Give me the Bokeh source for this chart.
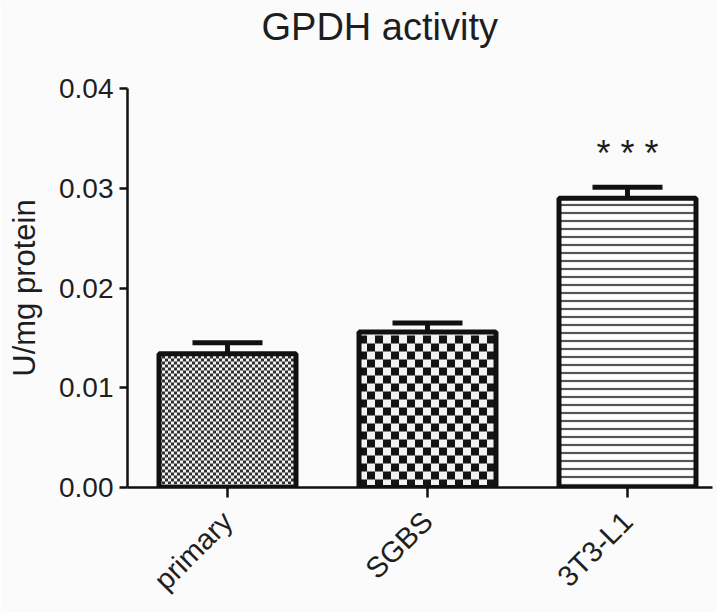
from bokeh.core.properties import value
from bokeh.embed import file_html
from bokeh.models import ColumnDataSource, FixedTicker, Range1d, TeeHead, Title, Whisker
from bokeh.plotting import figure
from bokeh.resources import INLINE

# ---- data -------------------------------------------------------------
cell_types = ["primary", "SGBS", "3T3-L1"]
gpdh_mean = [0.0134, 0.0156, 0.0290]
gpdh_sem = [0.0011, 0.0009, 0.0011]
significance = ["", "", "* * *"]
y_ticks = [0.00, 0.01, 0.02, 0.03, 0.04]

positions = list(range(len(cell_types)))
upper = [m + e for m, e in zip(gpdh_mean, gpdh_sem)]

# ---- layout -----------------------------------------------------------
W, H = 717, 612
BORDER_L, BORDER_R, BORDER_T, BORDER_B = 127, 5, 88, 125
X0, X1 = -0.5, 2.425
Y0, Y1 = 0.0, 0.04
BAR_W = 0.685
FRAME_W = W - BORDER_L - BORDER_R
FRAME_H = H - BORDER_T - BORDER_B

# data units per screen pixel, used to size the checker fills in pixels
dx_px = (X1 - X0) / FRAME_W
dy_px = (Y1 - Y0) / FRAME_H


def checker_cells(xc, top, cell_px):
    """Centres of the dark squares of a checkerboard filling one bar."""
    sx, sy = cell_px * dx_px, cell_px * dy_px
    left = xc - BAR_W / 2
    nx, ny = int(BAR_W / sx), int(top / sy)
    xs, ys = [], []
    for iy in range(ny):
        for ix in range(nx):
            if (ix + iy) % 2 == 0:
                xs.append(left + (ix + 0.5) * sx)
                ys.append((iy + 0.5) * sy)
    return xs, ys


FONT = "Liberation Sans"
INK = "#1e1e1e"

p = figure(width=W, height=H, output_backend="svg", toolbar_location=None,
           x_range=Range1d(X0, X1), y_range=Range1d(Y0, Y1),
           min_border_left=BORDER_L, min_border_right=BORDER_R,
           min_border_top=BORDER_T, min_border_bottom=BORDER_B,
           background_fill_color="#fbfbfb", border_fill_color="#fbfbfb")
p.outline_line_color = None
p.grid.visible = False

# bar backgrounds
p.vbar(x=positions[:2], top=gpdh_mean[:2], width=BAR_W, bottom=0,
       fill_color="#f2f2f2", line_color=None)

# fine checker (primary) and coarse checker (SGBS)
for idx, cell_px, dark in ((0, 3, "#2e2e2e"), (1, 8, "#141414")):
    xs, ys = checker_cells(positions[idx], gpdh_mean[idx], cell_px)
    p.rect(x=xs, y=ys, width=cell_px, height=cell_px, width_units="screen",
           height_units="screen", fill_color=dark, line_color=None)

# horizontal-line fill (3T3-L1)
p.vbar(x=[positions[2]], top=[gpdh_mean[2]], width=BAR_W, bottom=0,
       fill_color="white", line_color=None, hatch_pattern="horizontal_line",
       hatch_scale=8, hatch_weight=2.2, hatch_color="#555555")

# bar outlines
p.vbar(x=positions, top=gpdh_mean, width=BAR_W, bottom=0, fill_color=None,
       line_color="#111111", line_width=5)

err_src = ColumnDataSource(dict(x=positions, lower=gpdh_mean, upper=upper))
p.add_layout(Whisker(source=err_src, base="x", lower="lower", upper="upper",
                     dimension="height", line_width=5, line_color="#111111",
                     lower_head=None,
                     upper_head=TeeHead(size=70, line_width=5, line_color="#111111")))

p.text(x=positions, y=upper, text=significance, text_font=value(FONT),
       text_font_size="36px", text_color=INK, text_align="center",
       text_baseline="middle", y_offset=-34)

# main title, with a blank spacer title between it and the frame
p.title.text = "GPDH activity"
p.title.text_font = FONT
p.title.text_font_size = "38px"
p.title.text_font_style = "normal"
p.title.text_color = INK
p.title.align = "left"
p.title.offset = 134
p.title.standoff = 0
p.add_layout(Title(text=" ", text_font_size="10px", standoff=28), "above")

# axes
for ax in (p.xaxis, p.yaxis):
    ax.axis_line_width = 2.5
    ax.axis_line_color = "#111111"
    ax.major_tick_line_width = 2.5
    ax.major_tick_line_color = "#111111"
    ax.minor_tick_line_color = None
    ax.major_tick_in = 0
    ax.major_label_text_font = FONT
    ax.major_label_text_color = INK

p.yaxis.ticker = FixedTicker(ticks=y_ticks)
p.yaxis.major_label_overrides = {t: f"{t:.2f}" for t in y_ticks}
p.yaxis.major_tick_out = 8
p.yaxis.major_label_text_font_size = "28px"
p.yaxis.major_label_standoff = 6
p.yaxis.axis_label = "U/mg protein"
p.yaxis.axis_label_text_font = FONT
p.yaxis.axis_label_text_font_size = "31px"
p.yaxis.axis_label_text_font_style = "normal"
p.yaxis.axis_label_text_color = INK
p.yaxis.axis_label_standoff = 14

p.xaxis.ticker = FixedTicker(ticks=positions)
p.xaxis.major_label_overrides = {i: c for i, c in zip(positions, cell_types)}
p.xaxis.major_tick_out = 10
p.xaxis.major_label_orientation = 0.785
p.xaxis.major_label_text_font_size = "29px"
p.xaxis.major_label_standoff = 19

open("out.html", "w").write(file_html(p, INLINE))
